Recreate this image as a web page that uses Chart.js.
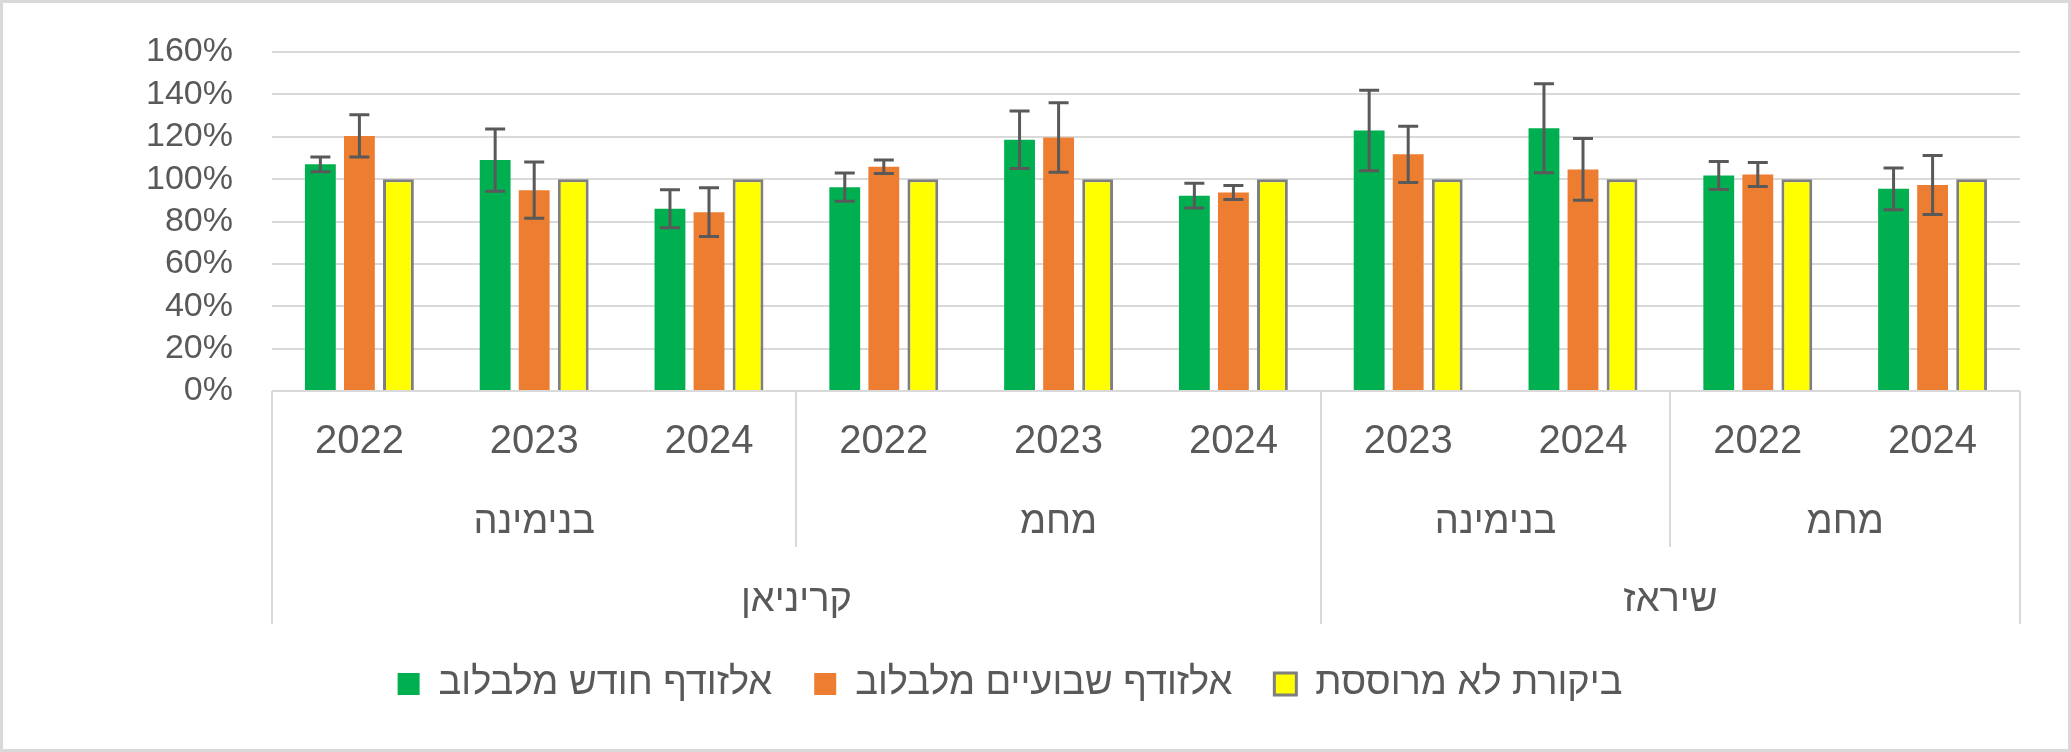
<!DOCTYPE html>
<html>
<meta charset="UTF-8">
<head>
    <title>אלזודף מלבלוב</title>
    <script src="https://cdn.jsdelivr.net/npm/chart.js"></script>
    <style>
        body { margin: 0; background: #fff; }
        #wrap { width: 2071px; height: 752px; }
    </style>
</head>
<body>
<div id="wrap"><canvas id="chart"></canvas></div>

<script>
    // Category levels (inner to outer)
    var years = ['2022', '2023', '2024', '2022', '2023', '2024', '2023', '2024', '2022', '2024'];
    var sites = ['בנימינה', 'בנימינה', 'בנימינה', 'מחמ', 'מחמ', 'מחמ', 'בנימינה', 'בנימינה', 'מחמ', 'מחמ'];
    var varieties = ['קריניאן', 'קריניאן', 'קריניאן', 'קריניאן', 'קריניאן', 'קריניאן', 'שיראז', 'שיראז', 'שיראז', 'שיראז'];

    var seriesNames = ['אלזודף חודש מלבלוב', 'אלזודף שבועיים מלבלוב', 'ביקורת לא מרוססת'];

    // Values as fractions (1 = 100%) with ± error
    var monthly = [1.07, 1.09, 0.86, 0.962, 1.186, 0.922, 1.23, 1.24, 1.017, 0.954];
    var monthlyErr = [0.035, 0.147, 0.09, 0.067, 0.136, 0.058, 0.19, 0.21, 0.066, 0.098];
    var biweekly = [1.204, 0.948, 0.844, 1.058, 1.196, 0.937, 1.117, 1.046, 1.022, 0.972];
    var biweeklyErr = [0.10, 0.133, 0.115, 0.032, 0.164, 0.033, 0.133, 0.146, 0.057, 0.139];
    var control = [1, 1, 1, 1, 1, 1, 1, 1, 1, 1];

    var yTicks = [0, 0.2, 0.4, 0.6, 0.8, 1.0, 1.2, 1.4, 1.6];

    var FONT = '"Liberation Sans", Arial, sans-serif';
    var TEXT = '#595959';
    var LINE = '#d9d9d9';

    // runs of identical consecutive keys -> [start, end]
    function runs(keys) {
        var out = [];
        var start = 0;
        for (var i = 1; i <= keys.length; i++) {
            if (i === keys.length || keys[i] !== keys[start]) {
                out.push([start, i - 1]);
                start = i;
            }
        }
        return out;
    }

    var framePlugin = {
        id: 'frame',
        beforeDraw: function(chart) {
            var c = chart.ctx;
            c.save();
            c.fillStyle = '#fff';
            c.fillRect(0, 0, chart.width, chart.height);
            c.strokeStyle = LINE;
            c.lineWidth = 3;
            c.strokeRect(1.5, 1.5, chart.width - 3, chart.height - 3);
            c.restore();
        }
    };

    var errorBarPlugin = {
        id: 'errorBars',
        afterDatasetsDraw: function(chart) {
            var c = chart.ctx;
            var y = chart.scales.y;
            c.save();
            c.strokeStyle = '#595959';
            c.lineWidth = 3;
            chart.data.datasets.forEach(function(ds, di) {
                if (!ds.errors) return;
                var meta = chart.getDatasetMeta(di);
                meta.data.forEach(function(bar, i) {
                    var v = ds.data[i], e = ds.errors[i];
                    var top = y.getPixelForValue(v + e);
                    var bot = y.getPixelForValue(v - e);
                    c.beginPath();
                    c.moveTo(bar.x, top); c.lineTo(bar.x, bot);
                    c.moveTo(bar.x - 10, top); c.lineTo(bar.x + 10, top);
                    c.moveTo(bar.x - 10, bot); c.lineTo(bar.x + 10, bot);
                    c.stroke();
                });
            });
            c.restore();
        }
    };

    // multi-level category axis drawn under the plot
    var groupAxisPlugin = {
        id: 'groupAxis',
        afterDraw: function(chart) {
            var c = chart.ctx;
            var x = chart.scales.x;
            var area = chart.chartArea;
            var n = years.length;
            var w = (area.right - area.left) / n;
            var b = area.bottom;
            function edge(i) { return x.getPixelForValue(i) - w / 2; }

            c.save();
            c.strokeStyle = LINE;
            c.lineWidth = 2;
            c.beginPath();
            c.moveTo(area.left, b); c.lineTo(area.right, b);
            c.stroke();

            c.fillStyle = TEXT;
            c.textAlign = 'center';
            c.textBaseline = 'middle';

            c.font = '40px ' + FONT;
            years.forEach(function(t, i) { c.fillText(t, x.getPixelForValue(i), b + 51); });

            var siteKeys = sites.map(function(s, i) { return varieties[i] + '|' + s; });
            c.font = '38px ' + FONT;
            runs(siteKeys).forEach(function(r) {
                c.fillText(sites[r[0]], (edge(r[0]) + edge(r[1] + 1)) / 2, b + 132);
            });
            runs(varieties).forEach(function(r) {
                c.fillText(varieties[r[0]], (edge(r[0]) + edge(r[1] + 1)) / 2, b + 210);
            });

            c.beginPath();
            runs(siteKeys).forEach(function(r) {
                var xx = Math.round(edge(r[1] + 1));
                c.moveTo(xx, b); c.lineTo(xx, b + 156);
            });
            runs(varieties).forEach(function(r, k) {
                if (k === 0) { var x0 = Math.round(edge(r[0])); c.moveTo(x0, b); c.lineTo(x0, b + 233); }
                var xx = Math.round(edge(r[1] + 1));
                c.moveTo(xx, b); c.lineTo(xx, b + 233);
            });
            c.stroke();
            c.restore();
        }
    };

    var ctx = document.getElementById('chart').getContext('2d');
    var chart = new Chart(ctx, {
        type: 'bar',
        data: {
            labels: years,
            datasets: [{
                label: seriesNames[0],
                data: monthly,
                errors: monthlyErr,
                backgroundColor: '#00b050',
                borderWidth: 0
            }, {
                label: seriesNames[1],
                data: biweekly,
                errors: biweeklyErr,
                backgroundColor: '#ed7d31',
                borderWidth: 0
            }, {
                label: seriesNames[2],
                data: control,
                backgroundColor: '#ffff00',
                borderColor: '#7f7f7f',
                borderWidth: 3
            }]
        },
        options: {
            responsive: true,
            maintainAspectRatio: false,
            animation: false,
            datasets: { bar: { categoryPercentage: 0.67, barPercentage: 0.79 } },
            layout: { padding: { top: 52, right: 51, bottom: 39, left: 0 } },
            plugins: {
                tooltip: { enabled: false },
                legend: {
                    position: 'bottom',
                    labels: {
                        color: TEXT,
                        font: { family: FONT, size: 38 },
                        boxWidth: 22,
                        boxHeight: 22,
                        padding: 42
                    }
                }
            },
            scales: {
                x: {
                    grid: { display: false },
                    border: { display: false },
                    ticks: { display: false },
                    afterFit: function(s) { s.height = 232; }
                },
                y: {
                    min: 0,
                    max: 1.6,
                    afterBuildTicks: function(s) { s.ticks = yTicks.map(function(v) { return { value: v }; }); },
                    afterFit: function(s) { s.width = 272; },
                    // invisible tick marks give the gap between labels and plot
                    grid: { color: LINE, lineWidth: 2, drawTicks: true, tickLength: 39, tickColor: 'rgba(0,0,0,0)' },
                    border: { display: false },
                    ticks: {
                        autoSkip: false,
                        color: TEXT,
                        padding: 0,
                        font: { family: FONT, size: 34 },
                        callback: function(v) { return Math.round(v * 100) + '%'; }
                    }
                }
            }
        },
        plugins: [framePlugin, errorBarPlugin, groupAxisPlugin]
    });
</script>
</body>
</html>
